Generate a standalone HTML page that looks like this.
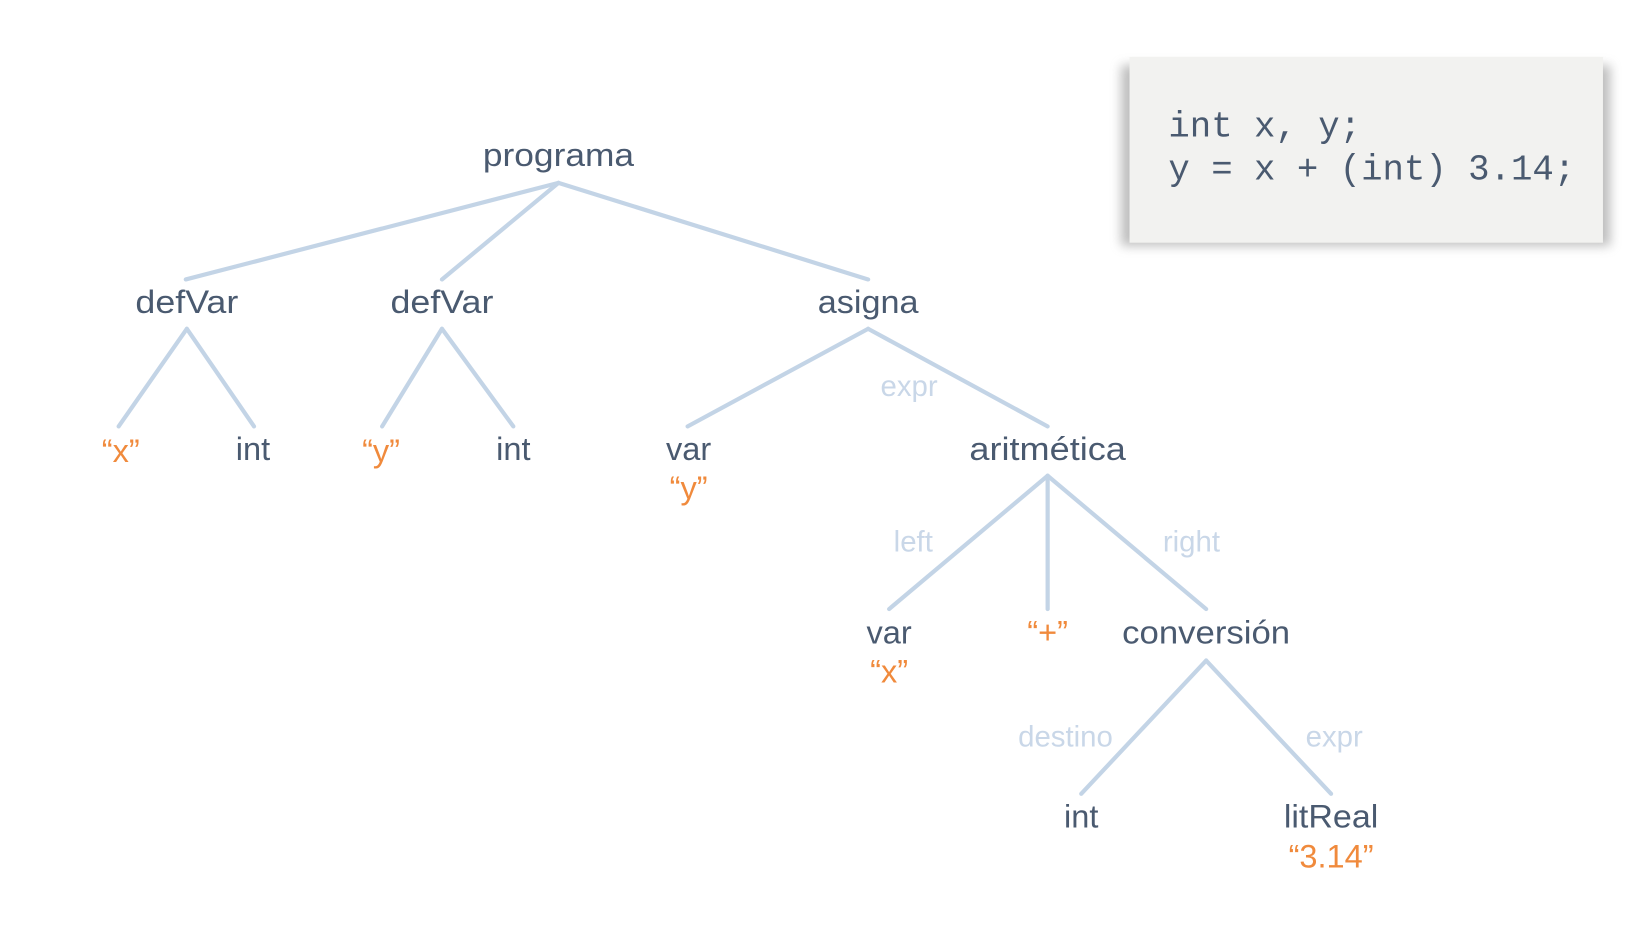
<!DOCTYPE html>
<html><head><meta charset="utf-8"><style>
html,body{margin:0;padding:0;background:#fff;width:1646px;height:941px;overflow:hidden}
svg{display:block}
.n{font-family:"Liberation Sans",sans-serif;font-size:31px;fill:#4a5a70;text-anchor:middle}
.o{font-family:"Liberation Sans",sans-serif;font-size:31px;fill:#f08a3c;text-anchor:middle}
.l{font-family:"Liberation Sans",sans-serif;font-size:28px;fill:#c9d7e8;text-anchor:middle}
.c{font-family:"Liberation Mono",monospace;font-size:34px;fill:#4a5a70}
line{stroke:#c3d4e6;stroke-width:4;stroke-linecap:round}
</style></head><body>
<svg width="1646" height="941" viewBox="0 0 1568 896" xmlns="http://www.w3.org/2000/svg">
<defs><filter id="sh" x="-10%" y="-10%" width="120%" height="130%"><feGaussianBlur stdDeviation="5"/></filter></defs>
<rect x="1068" y="62" width="466" height="172" fill="#888" opacity="0.55" filter="url(#sh)"/>
<rect x="1076" y="54" width="451" height="177" fill="#f2f2f0"/>
<text class="c" x="1113" y="130">int x, y;</text>
<text class="c" x="1113" y="171">y = x + (int) 3.14;</text>

<line x1="532" y1="174" x2="177" y2="266"/>
<line x1="532" y1="174" x2="421" y2="266"/>
<line x1="532" y1="174" x2="827" y2="266"/>
<line x1="178" y1="313" x2="113" y2="406"/>
<line x1="178" y1="313" x2="242" y2="406"/>
<line x1="421" y1="313" x2="364" y2="406"/>
<line x1="421" y1="313" x2="489" y2="406"/>
<line x1="827" y1="313" x2="655" y2="406"/>
<line x1="827" y1="313" x2="998" y2="406"/>
<line x1="998" y1="453" x2="847" y2="580"/>
<line x1="998" y1="453" x2="998" y2="580"/>
<line x1="998" y1="453" x2="1149" y2="580"/>
<line x1="1149" y1="629" x2="1030" y2="756"/>
<line x1="1149" y1="629" x2="1268" y2="756"/>

<text class="n" x="532" y="158" textLength="144" lengthAdjust="spacingAndGlyphs">programa</text>
<text class="n" x="178" y="298" textLength="98" lengthAdjust="spacingAndGlyphs">defVar</text>
<text class="n" x="421" y="298" textLength="98" lengthAdjust="spacingAndGlyphs">defVar</text>
<text class="n" x="827" y="298" textLength="96" lengthAdjust="spacingAndGlyphs">asigna</text>
<text class="l" x="866" y="377">expr</text>
<text class="o" x="115" y="440">“x”</text>
<text class="n" x="241" y="438">int</text>
<text class="o" x="363" y="440">“y”</text>
<text class="n" x="489" y="438">int</text>
<text class="n" x="656" y="438">var</text>
<text class="o" x="656" y="475">“y”</text>
<text class="n" x="998" y="438" textLength="149" lengthAdjust="spacingAndGlyphs">aritmética</text>
<text class="l" x="870" y="525">left</text>
<text class="l" x="1135" y="525">right</text>
<text class="n" x="847" y="613">var</text>
<text class="o" x="847" y="650">“x”</text>
<text class="o" x="998" y="613">“+”</text>
<text class="n" x="1149" y="613" textLength="160" lengthAdjust="spacingAndGlyphs">conversión</text>
<text class="l" x="1015" y="711">destino</text>
<text class="l" x="1271" y="711">expr</text>
<text class="n" x="1030" y="788">int</text>
<text class="n" x="1268" y="788" textLength="90" lengthAdjust="spacingAndGlyphs">litReal</text>
<text class="o" x="1268" y="826">“3.14”</text>
</svg>
</body></html>
